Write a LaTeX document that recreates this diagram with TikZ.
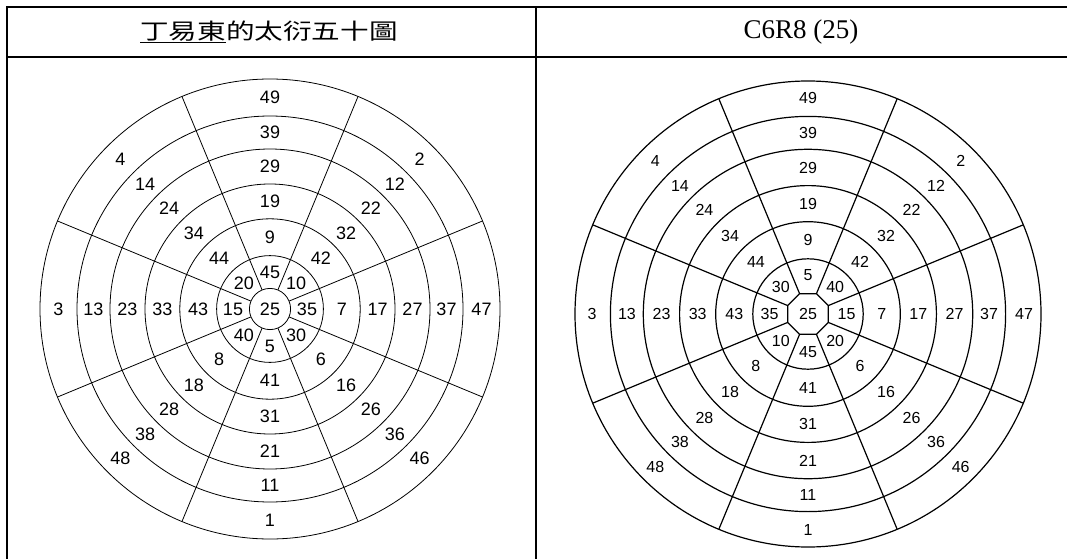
\documentclass[tikz,border=0pt]{standalone}
\usepackage{graphicx}
\usepackage{fontspec}
\setmainfont{Liberation Serif}
\newfontfamily\cjkfont{Noto Sans CJK TC}
\newfontfamily\labfont{Liberation Sans}
\begin{document}
\begin{tikzpicture}[x=1pt,y=1pt,
  gridline/.style={line width=2pt,line cap=rect},
  ringL/.style={line width=0.8pt},
  ringR/.style={line width=1.2pt},
  numL/.style={font=\labfont\fontsize{18}{18}\selectfont,inner sep=0pt},
  numR/.style={font=\labfont\fontsize{16}{16}\selectfont,inner sep=0pt},
  headtext/.style={inner sep=0pt}]
\useasboundingbox (0,0) rectangle (1067,558);
% table
\draw[gridline] (6.7,-2) -- (6.7,550.7) -- (1069,550.7);
\draw[gridline] (6.7,501.3) -- (1069,501.3);
\draw[gridline] (535.7,-2) -- (535.7,550.7);
\node[headtext] (h1) at (269,526) {\cjkfont\fontsize{22}{22}\selectfont\scalebox{1.3}[1]{\underline{丁易東}的太衍五十圖}};
\node[headtext] (h2) at (800.9,526) {\fontsize{27}{27}\selectfont C6R8 (25)};
% left wheel
\begin{scope}[shift={(270,249)}]
  \foreach \r in {20.6,53.4,90.2,125,160,193,230} \draw[ringL] (0,0) circle (\r);
  \foreach \a in {22.5,67.5,...,337.5} \draw[ringL] (\a:20.6) -- (\a:230);
  \node[numL] (L0) at (0,0) {25};
  \foreach \m/\lst [count=\i] in {37/{45,10,35,30,5,40,15,20},
      71.8/{9,42,7,6,41,8,43,44},
      107.6/{19,32,17,16,31,18,33,34},
      142.5/{29,22,27,26,21,28,23,24},
      176.5/{39,12,37,36,11,38,13,14},
      211.5/{49,2,47,46,1,48,3,4}} {
    \foreach \t [count=\j] in \lst {
      \pgfmathsetmacro\ang{90-45*(\j-1)}
      \node[numL] (L\i-\j) at (\ang:\m) {\t};
    }
  }
\end{scope}
% right wheel
\begin{scope}[shift={(808,244)}]
  \draw[ringR] (22.5:22) \foreach \a in {67.5,112.5,...,337.5} { -- (\a:22) } -- cycle;
  \foreach \r in {55.2,92.3,128.4,164.7,197.6,233} \draw[ringR] (0,0) circle (\r);
  \foreach \a in {22.5,67.5,...,337.5} \draw[ringR] (\a:22) -- (\a:233);
  \node[numR] (R0) at (0,0) {25};
  \foreach \m/\lst [count=\i] in {38.5/{5,40,15,20,45,10,35,30},
      73.7/{9,42,7,6,41,8,43,44},
      110.3/{19,32,17,16,31,18,33,34},
      146.5/{29,22,27,26,21,28,23,24},
      181.1/{39,12,37,36,11,38,13,14},
      216/{49,2,47,46,1,48,3,4}} {
    \foreach \t [count=\j] in \lst {
      \pgfmathsetmacro\ang{90-45*(\j-1)}
      \node[numR] (R\i-\j) at (\ang:\m) {\t};
    }
  }
\end{scope}
\end{tikzpicture}
\end{document}
